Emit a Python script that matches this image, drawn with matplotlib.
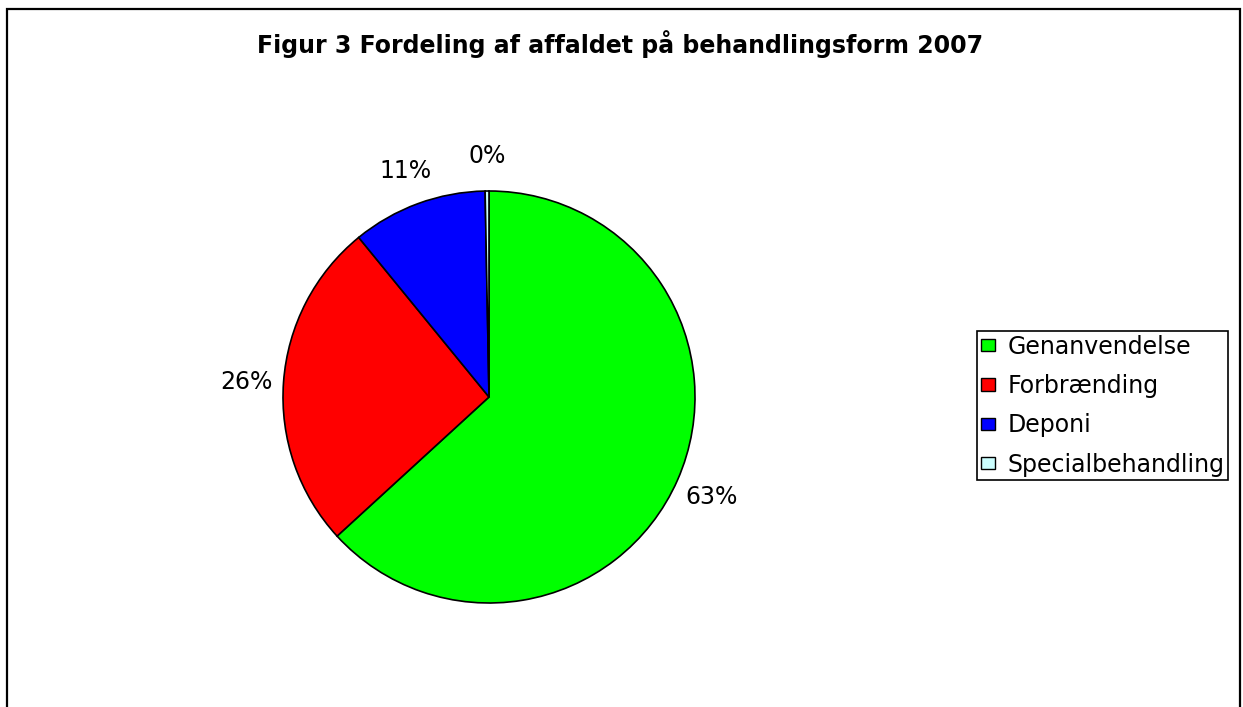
import matplotlib.pyplot as plt
from matplotlib.patches import Rectangle

categories = ["Genanvendelse", "Forbrænding", "Deponi", "Specialbehandling"]
shares = [63.2, 25.9, 10.6, 0.3]
pct_labels = ["63%", "26%", "11%", "0%"]
colors = ["#00FF00", "#FF0000", "#0000FF", "#CCFFFF"]

W, H = 1243, 707
fig = plt.figure(figsize=(W / 100, H / 100), dpi=100)
plt.rcParams['font.family'] = ['DejaVu Sans']

# outer frame (bottom edge runs off the picture)
fig.patches.append(Rectangle((7 / W, -0.05), (1240 - 7) / W, 1.05 - 9 / H,
                             transform=fig.transFigure, fill=False,
                             edgecolor="black", linewidth=1.6))

fig.text(620 / W, 1 - 44 / H, "Figur 3 Fordeling af affaldet på behandlingsform 2007",
         ha="center", va="center", fontsize=17, fontweight="bold")

cx, cy, r = 489, 397, 206
ax = fig.add_axes([(cx - r) / W, (H - cy - r) / H, 2 * r / W, 2 * r / H])
wedges, texts = ax.pie(shares, colors=colors, startangle=90, counterclock=False,
                       labels=pct_labels, labeldistance=1.18,
                       wedgeprops=dict(edgecolor="black", linewidth=1.2),
                       textprops=dict(fontsize=17))
for t in texts:
    t.set_ha("center")
    t.set_va("center_baseline")
ax.set_xlim(-1, 1)
ax.set_ylim(-1, 1)
ax.set_aspect("equal")
ax.axis("off")

leg = fig.legend(wedges, categories, loc="upper left",
                 bbox_to_anchor=(977 / W, 1 - 331 / H), borderaxespad=0,
                 fontsize=17, fancybox=False, edgecolor="black",
                 handlelength=0.6, handleheight=0.42, handletextpad=0.55,
                 labelspacing=0.65, borderpad=0.15)
leg.get_frame().set_linewidth(1.2)
leg.get_frame().set_alpha(1)
for h in leg.legend_handles:
    h.set_linewidth(1.0)

fig.savefig("out.png", dpi=100)
